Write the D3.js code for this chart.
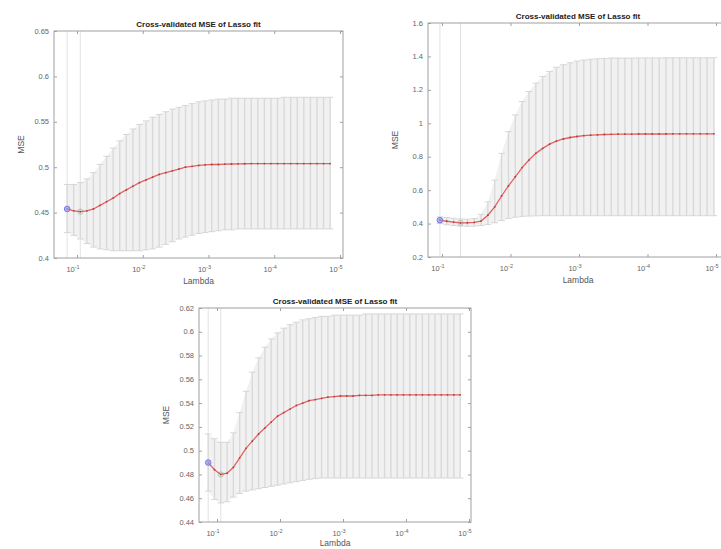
<!DOCTYPE html>
<html>
<head>
<meta charset="utf-8">
<title>Cross-validated MSE of Lasso fit</title>
<script src="https://cdnjs.cloudflare.com/ajax/libs/d3/7.8.5/d3.min.js"></script>
<style>
  body { margin: 0; background: #fff; }
  text { font-family: "Liberation Sans", Arial, sans-serif; }
</style>
</head>
<body>
<svg id="fig" width="721" height="549"></svg>
<script>
// log10(lambda) of each fit, largest lambda first
var lamExp1 = [-0.85,-0.95,-1.05,-1.15,-1.25,-1.35,-1.45,-1.55,-1.65,-1.75,-1.85,-1.95,-2.05,-2.15,-2.25,-2.35,-2.45,-2.55,-2.65,-2.75,
  -2.85,-2.95,-3.05,-3.15,-3.25,-3.35,-3.45,-3.55,-3.65,-3.75,-3.85,-3.95,-4.05,-4.15,-4.25,-4.35,-4.45,-4.55,-4.65,-4.75,-4.85];
var lamExp2 = [-0.97,-1.07,-1.17,-1.27,-1.37,-1.47,-1.57,-1.67,-1.77,-1.87,-1.97,-2.07,-2.17,-2.27,-2.37,-2.47,-2.57,-2.67,-2.77,-2.87,
  -2.97,-3.07,-3.17,-3.27,-3.37,-3.47,-3.57,-3.67,-3.77,-3.87,-3.97,-4.07,-4.17,-4.27,-4.37,-4.47,-4.57,-4.67,-4.77,-4.87,-4.97];
var lamExp3 = [-0.86,-0.96,-1.06,-1.16,-1.26,-1.36,-1.46,-1.56,-1.66,-1.76,-1.86,-1.96,-2.06,-2.16,-2.26,-2.36,-2.46,-2.56,-2.66,-2.76,
  -2.86,-2.96,-3.06,-3.16,-3.26,-3.36,-3.46,-3.56,-3.66,-3.76,-3.86,-3.96,-4.06,-4.16,-4.26,-4.36,-4.46,-4.56,-4.66,-4.76,-4.86];

// fit 1 (top left)
var mse1 = [0.454,0.452,0.451,0.452,0.454,0.458,0.462,0.466,0.471,0.475,0.479,0.483,0.486,0.489,0.492,0.494,0.496,0.498,0.500,0.501,
  0.502,0.5025,0.503,0.503,0.5033,0.5035,0.5037,0.5038,0.504,0.504,0.504,0.504,0.504,0.504,0.504,0.504,0.504,0.504,0.504,0.504,0.504];
var hi1 = [0.481,0.481,0.483,0.487,0.494,0.503,0.512,0.521,0.529,0.536,0.542,0.547,0.551,0.555,0.558,0.561,0.564,0.566,0.568,0.570,
  0.572,0.573,0.574,0.575,0.575,0.576,0.576,0.576,0.576,0.576,0.576,0.576,0.576,0.577,0.577,0.577,0.577,0.577,0.577,0.577,0.577];
var lo1 = [0.428,0.425,0.421,0.416,0.412,0.410,0.409,0.408,0.408,0.408,0.408,0.408,0.409,0.410,0.412,0.415,0.418,0.421,0.423,0.425,
  0.427,0.428,0.429,0.430,0.431,0.431,0.432,0.432,0.432,0.432,0.432,0.432,0.432,0.432,0.432,0.432,0.432,0.432,0.432,0.432,0.432];

// fit 2 (top right)
var mse2 = [0.420,0.414,0.409,0.404,0.405,0.407,0.415,0.450,0.500,0.565,0.625,0.680,0.735,0.780,0.820,0.850,0.875,0.893,0.906,0.915,
  0.921,0.926,0.929,0.931,0.933,0.934,0.935,0.935,0.935,0.936,0.936,0.936,0.936,0.936,0.937,0.937,0.937,0.937,0.937,0.937,0.937];
var hi2 = [0.440,0.436,0.432,0.428,0.426,0.430,0.455,0.530,0.660,0.820,0.950,1.050,1.130,1.190,1.240,1.280,1.310,1.335,1.350,1.362,
  1.372,1.378,1.383,1.386,1.388,1.390,1.390,1.390,1.390,1.391,1.391,1.391,1.391,1.392,1.392,1.392,1.392,1.392,1.392,1.392,1.392];
var lo2 = [0.400,0.393,0.388,0.385,0.384,0.385,0.388,0.395,0.405,0.418,0.430,0.438,0.443,0.445,0.446,0.447,0.447,0.447,0.447,0.447,
  0.447,0.447,0.447,0.447,0.447,0.447,0.447,0.447,0.447,0.447,0.447,0.447,0.447,0.447,0.447,0.447,0.447,0.447,0.447,0.447,0.447];

// fit 3 (bottom)
var mse3 = [0.490,0.484,0.480,0.481,0.486,0.494,0.502,0.508,0.514,0.519,0.524,0.529,0.532,0.535,0.538,0.540,0.542,0.543,0.544,0.545,
  0.5455,0.546,0.546,0.546,0.5465,0.5465,0.5465,0.547,0.547,0.547,0.547,0.547,0.547,0.547,0.547,0.547,0.547,0.547,0.547,0.547,0.547];
var hi3 = [0.514,0.510,0.507,0.507,0.515,0.532,0.550,0.566,0.578,0.587,0.594,0.599,0.603,0.606,0.608,0.610,0.611,0.612,0.613,0.613,
  0.614,0.614,0.614,0.614,0.614,0.615,0.615,0.615,0.615,0.615,0.615,0.615,0.615,0.615,0.615,0.615,0.615,0.615,0.615,0.615,0.615];
var lo3 = [0.466,0.459,0.456,0.457,0.461,0.464,0.466,0.467,0.468,0.469,0.470,0.471,0.472,0.473,0.474,0.475,0.476,0.4765,0.477,0.477,
  0.477,0.477,0.477,0.477,0.477,0.477,0.477,0.477,0.477,0.477,0.477,0.477,0.477,0.477,0.477,0.477,0.477,0.477,0.477,0.477,0.477];

// index of the 1-SE lambda and of the minimum-MSE lambda
var idx1se = [0, 0, 0];
var idxMin = [2, 3, 2];

// tick values and labels
var xTickVals = [1e-1, 1e-2, 1e-3, 1e-4, 1e-5];
var xTickExp = ["-1", "-2", "-3", "-4", "-5"];
var yTicks1 = [0.4, 0.45, 0.5, 0.55, 0.6, 0.65];
var yLabels1 = ["0.4", "0.45", "0.5", "0.55", "0.6", "0.65"];
var yTicks2 = [0.2, 0.4, 0.6, 0.8, 1, 1.2, 1.4, 1.6];
var yLabels2 = ["0.2", "0.4", "0.6", "0.8", "1", "1.2", "1.4", "1.6"];
var yTicks3 = [0.44, 0.46, 0.48, 0.5, 0.52, 0.54, 0.56, 0.58, 0.6, 0.62];
var yLabels3 = ["0.44", "0.46", "0.48", "0.5", "0.52", "0.54", "0.56", "0.58", "0.6", "0.62"];

var titleText = "Cross-validated MSE of Lasso fit";

var svg = d3.select("#fig");

// axes placement (pixels) and limits
var panels = [
  {left: 54, right: 343, top: 31, bottom: 258, xlim: [-0.65, -5.046], ylim: [0.4, 0.65]},
  {left: 428, right: 728, top: 23, bottom: 257, xlim: [-0.796, -5.175], ylim: [0.2, 1.6]},
  {left: 199, right: 471, top: 308, bottom: 522, xlim: [-0.714, -5.032], ylim: [0.44, 0.62]}
];

drawPanel(panels[0], lamExp1, mse1, lo1, hi1, yTicks1, yLabels1, idx1se[0], idxMin[0]);
drawPanel(panels[1], lamExp2, mse2, lo2, hi2, yTicks2, yLabels2, idx1se[1], idxMin[1]);
drawPanel(panels[2], lamExp3, mse3, lo3, hi3, yTicks3, yLabels3, idx1se[2], idxMin[2]);

function drawPanel(p, lamExp, mse, lo, hi, yTicks, yLabels, i1se, iMin) {
  var g = svg.append("g");
  var x = d3.scaleLog()
    .domain([Math.pow(10, p.xlim[0]), Math.pow(10, p.xlim[1])])
    .range([p.left, p.right]);
  var y = d3.scaleLinear().domain(p.ylim).range([p.bottom, p.top]);
  var lam = lamExp.map(function (e) { return Math.pow(10, e); });

  // dotted lines at the two chosen lambdas
  [i1se, iMin].forEach(function (i) {
    g.append("line")
      .attr("x1", x(lam[i])).attr("x2", x(lam[i]))
      .attr("y1", p.top).attr("y2", p.bottom)
      .attr("stroke", "#e2e2e2")
      .attr("stroke-width", 1);
  });

  // light band behind the error bars
  var band = d3.area()
    .x(function (d, i) { return x(lam[i]); })
    .y0(function (d, i) { return y(lo[i]); })
    .y1(function (d, i) { return y(hi[i]); });
  g.append("path")
    .datum(mse)
    .attr("d", band)
    .attr("fill", "#f1f1f1");

  // error bars
  lam.forEach(function (l, i) {
    var cx = x(l);
    g.append("line")
      .attr("x1", cx).attr("x2", cx)
      .attr("y1", y(lo[i])).attr("y2", y(hi[i]))
      .attr("stroke", "#d9d9d9")
      .attr("stroke-width", 1.4);
    [lo[i], hi[i]].forEach(function (v) {
      g.append("line")
        .attr("x1", cx - 3.3).attr("x2", cx + 3.3)
        .attr("y1", y(v)).attr("y2", y(v))
        .attr("stroke", "#d6d6d6")
        .attr("stroke-width", 1);
    });
  });

  // MSE curve
  var line = d3.line()
    .x(function (d, i) { return x(lam[i]); })
    .y(function (d) { return y(d); });
  g.append("path")
    .datum(mse)
    .attr("d", line)
    .attr("fill", "none")
    .attr("stroke", "#e86060")
    .attr("stroke-width", 1.3);
  g.selectAll(".dot").data(mse).enter().append("circle")
    .attr("cx", function (d, i) { return x(lam[i]); })
    .attr("cy", function (d) { return y(d); })
    .attr("r", 0.9)
    .attr("fill", "#a84040");

  // markers at min MSE (green) and 1-SE (blue)
  g.append("circle")
    .attr("cx", x(lam[iMin])).attr("cy", y(mse[iMin]))
    .attr("r", 2.6)
    .attr("fill", "none")
    .attr("stroke", "#7a9a7a")
    .attr("stroke-opacity", 0.5)
    .attr("stroke-width", 1);
  g.append("circle")
    .attr("cx", x(lam[i1se])).attr("cy", y(mse[i1se]))
    .attr("r", 2.8)
    .attr("fill", "#9a9af0")
    .attr("fill-opacity", 0.7)
    .attr("stroke", "#7878e0")
    .attr("stroke-width", 1);

  // axes box
  g.append("rect")
    .attr("x", p.left).attr("y", p.top)
    .attr("width", p.right - p.left).attr("height", p.bottom - p.top)
    .attr("fill", "none")
    .attr("stroke", "#a0a0a0")
    .attr("stroke-width", 1);

  // inner ticks on all four sides
  var tickColor = "#a0a0a0";
  [[d3.axisBottom(x), p.bottom], [d3.axisTop(x), p.top]].forEach(function (a) {
    var ax = g.append("g").attr("transform", "translate(0," + a[1] + ")")
      .call(a[0].tickValues(xTickVals).tickSize(-3).tickSizeOuter(0).tickFormat(""));
    ax.select(".domain").remove();
    ax.selectAll("line").attr("stroke", tickColor);
  });
  [[d3.axisLeft(y), p.left], [d3.axisRight(y), p.right]].forEach(function (a) {
    var ax = g.append("g").attr("transform", "translate(" + a[1] + ",0)")
      .call(a[0].tickValues(yTicks).tickSize(-3).tickSizeOuter(0).tickFormat(""));
    ax.select(".domain").remove();
    ax.selectAll("line").attr("stroke", tickColor);
  });

  // y tick labels
  yTicks.forEach(function (v, i) {
    g.append("text")
      .attr("x", p.left - 5)
      .attr("y", y(v) + 2.6)
      .attr("text-anchor", "end")
      .attr("font-size", 7.5)
      .attr("fill", "#666")
      .text(yLabels[i]);
  });

  // x tick labels with superscripts
  xTickVals.forEach(function (v, i) {
    var t = g.append("text")
      .attr("x", x(v) - 4)
      .attr("y", p.bottom + 14)
      .attr("text-anchor", "middle")
      .attr("font-size", 7.5)
      .attr("fill", "#666");
    t.append("tspan").text("10");
    t.append("tspan").attr("dy", -3.5).attr("font-size", 5.5).text(xTickExp[i]);
  });

  // labels and title
  var cx = (p.left + p.right) / 2;
  var cy = (p.top + p.bottom) / 2;
  g.append("text")
    .attr("x", cx).attr("y", Math.min(p.bottom + 26, 546))
    .attr("text-anchor", "middle")
    .attr("font-size", 8.5)
    .attr("fill", "#555")
    .text("Lambda");
  g.append("text")
    .attr("transform", "translate(" + (p.left - 30) + "," + cy + ") rotate(-90)")
    .attr("text-anchor", "middle")
    .attr("font-size", 8.5)
    .attr("fill", "#555")
    .text("MSE");
  g.append("text")
    .attr("x", cx).attr("y", p.top - 4)
    .attr("text-anchor", "middle")
    .attr("font-size", 8)
    .attr("font-weight", "bold")
    .attr("fill", "#222")
    .text(titleText);
}
</script>
</body>
</html>
